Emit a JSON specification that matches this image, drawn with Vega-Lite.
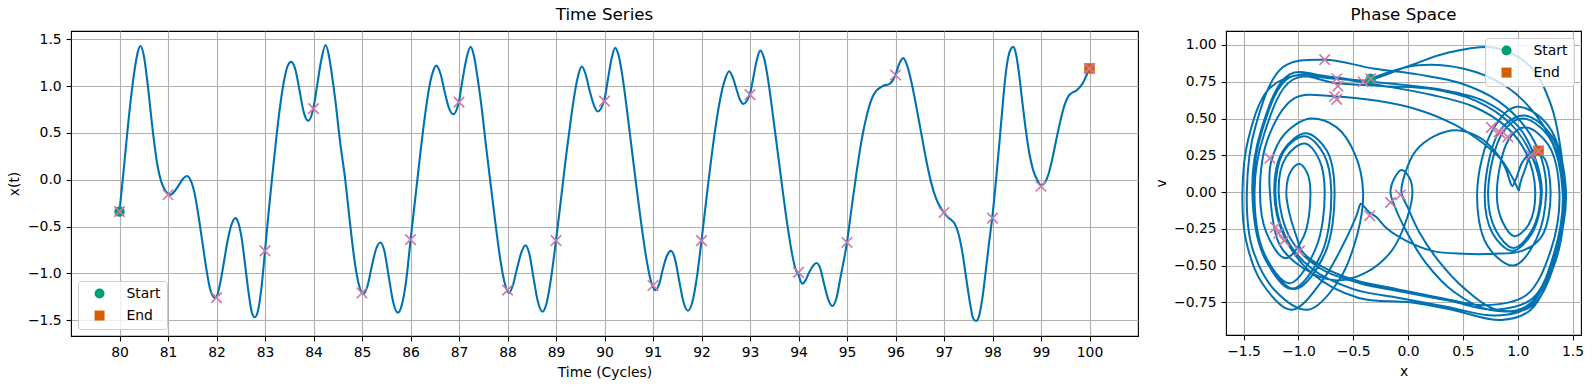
{
"$schema": "https://vega.github.io/schema/vega-lite/v6.json",
"padding": {"left": 7, "top": 6, "right": 5, "bottom": 5},
"datasets": {
"traj": [
{"t":80.00,"x":-0.34,"v":0.77},{"t":80.08,"x":0.07,"v":0.86},{"t":80.16,"x":0.50,"v":0.84},{"t":80.24,"x":0.89,"v":0.72},{"t":80.31,"x":1.17,"v":0.52},{"t":80.37,"x":1.35,"v":0.28},{"t":80.43,"x":1.43,"v":0},
{"t":80.50,"x":1.33,"v":-0.50},{"t":80.57,"x":1.07,"v":-0.78},{"t":80.64,"x":0.74,"v":-0.80},{"t":80.71,"x":0.42,"v":-0.68},{"t":80.78,"x":0.16,"v":-0.48},{"t":80.86,"x":-0.02,"v":-0.26},{"t":80.95,"x":-0.12,"v":-0.10},{"t":81.05,"x":-0.16,"v":0},
{"t":81.14,"x":-0.12,"v":0.10},{"t":81.22,"x":-0.06,"v":0.15},{"t":81.31,"x":0.01,"v":0.10},{"t":81.39,"x":0.04,"v":0},
{"t":81.47,"x":-0.01,"v":-0.18},{"t":81.55,"x":-0.15,"v":-0.40},{"t":81.63,"x":-0.39,"v":-0.55},{"t":81.71,"x":-0.67,"v":-0.60},{"t":81.79,"x":-0.95,"v":-0.52},{"t":81.87,"x":-1.17,"v":-0.36},{"t":81.96,"x":-1.26,"v":0},
{"t":82.00,"x":-1.25,"v":0.20},{"t":82.07,"x":-1.12,"v":0.40},{"t":82.15,"x":-0.89,"v":0.50},{"t":82.23,"x":-0.65,"v":0.44},{"t":82.31,"x":-0.48,"v":0.25},{"t":82.39,"x":-0.41,"v":0},
{"t":82.45,"x":-0.46,"v":-0.28},{"t":82.52,"x":-0.63,"v":-0.60},{"t":82.59,"x":-0.91,"v":-0.80},{"t":82.66,"x":-1.20,"v":-0.68},{"t":82.73,"x":-1.42,"v":-0.38},{"t":82.79,"x":-1.47,"v":0},
{"t":82.86,"x":-1.39,"v":0.45},{"t":82.93,"x":-1.14,"v":0.85},{"t":83.00,"x":-0.76,"v":0.90},{"t":83.08,"x":-0.32,"v":0.84},{"t":83.16,"x":0.09,"v":0.80},{"t":83.24,"x":0.48,"v":0.74},{"t":83.32,"x":0.82,"v":0.62},{"t":83.40,"x":1.08,"v":0.43},{"t":83.47,"x":1.22,"v":0.22},{"t":83.54,"x":1.26,"v":0},
{"t":83.63,"x":1.17,"v":-0.32},{"t":83.71,"x":0.96,"v":-0.50},{"t":83.80,"x":0.72,"v":-0.36},{"t":83.89,"x":0.63,"v":0},
{"t":84.00,"x":0.77,"v":0.42},{"t":84.07,"x":0.99,"v":0.58},{"t":84.16,"x":1.28,"v":0.45},{"t":84.25,"x":1.44,"v":0},
{"t":84.32,"x":1.32,"v":-0.50},{"t":84.38,"x":1.12,"v":-0.80},{"t":84.45,"x":0.85,"v":-0.87},{"t":84.55,"x":0.40,"v":-0.80},{"t":84.65,"x":0.02,"v":-0.75},{"t":84.75,"x":-0.45,"v":-0.72},{"t":84.85,"x":-0.88,"v":-0.55},{"t":84.94,"x":-1.13,"v":-0.30},{"t":85.03,"x":-1.22,"v":0},
{"t":85.11,"x":-1.14,"v":0.28},{"t":85.20,"x":-0.93,"v":0.40},{"t":85.29,"x":-0.74,"v":0.28},{"t":85.38,"x":-0.67,"v":0},
{"t":85.46,"x":-0.76,"v":-0.42},{"t":85.55,"x":-1.03,"v":-0.66},{"t":85.64,"x":-1.30,"v":-0.46},{"t":85.74,"x":-1.42,"v":0},
{"t":85.82,"x":-1.34,"v":0.42},{"t":85.91,"x":-1.08,"v":0.80},{"t":86.00,"x":-0.65,"v":0.77},{"t":86.10,"x":-0.19,"v":0.74},{"t":86.20,"x":0.27,"v":0.70},{"t":86.30,"x":0.69,"v":0.62},{"t":86.39,"x":1.00,"v":0.45},{"t":86.46,"x":1.15,"v":0.25},{"t":86.53,"x":1.22,"v":0},
{"t":86.62,"x":1.13,"v":-0.28},{"t":86.70,"x":0.95,"v":-0.40},{"t":86.79,"x":0.77,"v":-0.28},{"t":86.88,"x":0.70,"v":0},
{"t":87.00,"x":0.84,"v":0.42},{"t":87.07,"x":1.06,"v":0.52},{"t":87.16,"x":1.31,"v":0.38},{"t":87.24,"x":1.42,"v":0},
{"t":87.31,"x":1.32,"v":-0.48},{"t":87.38,"x":1.10,"v":-0.78},{"t":87.46,"x":0.80,"v":-0.84},{"t":87.56,"x":0.35,"v":-0.78},{"t":87.66,"x":-0.08,"v":-0.72},{"t":87.76,"x":-0.50,"v":-0.66},{"t":87.86,"x":-0.88,"v":-0.52},{"t":87.95,"x":-1.12,"v":-0.30},{"t":88.03,"x":-1.21,"v":0},
{"t":88.11,"x":-1.13,"v":0.28},{"t":88.20,"x":-0.94,"v":0.38},{"t":88.29,"x":-0.77,"v":0.26},{"t":88.37,"x":-0.70,"v":0},
{"t":88.45,"x":-0.79,"v":-0.42},{"t":88.54,"x":-1.06,"v":-0.66},{"t":88.63,"x":-1.31,"v":-0.44},{"t":88.72,"x":-1.41,"v":0},
{"t":88.80,"x":-1.33,"v":0.42},{"t":88.89,"x":-1.08,"v":0.78},{"t":89.00,"x":-0.65,"v":0.74},{"t":89.10,"x":-0.22,"v":0.72},{"t":89.20,"x":0.22,"v":0.70},{"t":89.30,"x":0.62,"v":0.62},{"t":89.39,"x":0.94,"v":0.46},{"t":89.46,"x":1.12,"v":0.26},{"t":89.53,"x":1.21,"v":0},
{"t":89.61,"x":1.13,"v":-0.26},{"t":89.69,"x":0.96,"v":-0.38},{"t":89.78,"x":0.80,"v":-0.26},{"t":89.86,"x":0.73,"v":0},
{"t":90.00,"x":0.86,"v":0.40},{"t":90.06,"x":1.04,"v":0.50},{"t":90.14,"x":1.28,"v":0.38},{"t":90.22,"x":1.41,"v":0},
{"t":90.29,"x":1.33,"v":-0.42},{"t":90.36,"x":1.14,"v":-0.72},{"t":90.45,"x":0.80,"v":-0.80},{"t":90.55,"x":0.38,"v":-0.74},{"t":90.65,"x":-0.04,"v":-0.68},{"t":90.75,"x":-0.44,"v":-0.62},{"t":90.85,"x":-0.80,"v":-0.52},{"t":90.95,"x":-1.07,"v":-0.32},{"t":91.05,"x":-1.18,"v":0},
{"t":91.13,"x":-1.11,"v":0.24},{"t":91.21,"x":-0.94,"v":0.33},{"t":91.29,"x":-0.81,"v":0.22},{"t":91.37,"x":-0.76,"v":0},
{"t":91.45,"x":-0.84,"v":-0.38},{"t":91.54,"x":-1.08,"v":-0.62},{"t":91.63,"x":-1.31,"v":-0.42},{"t":91.72,"x":-1.40,"v":0},
{"t":91.81,"x":-1.31,"v":0.40},{"t":91.90,"x":-1.06,"v":0.76},{"t":92.00,"x":-0.65,"v":0.77},{"t":92.10,"x":-0.21,"v":0.72},{"t":92.20,"x":0.22,"v":0.66},{"t":92.30,"x":0.60,"v":0.58},{"t":92.40,"x":0.90,"v":0.44},{"t":92.49,"x":1.08,"v":0.26},{"t":92.57,"x":1.16,"v":0},
{"t":92.64,"x":1.10,"v":-0.22},{"t":92.72,"x":0.97,"v":-0.30},{"t":92.79,"x":0.86,"v":-0.20},{"t":92.86,"x":0.81,"v":0},
{"t":93.00,"x":0.92,"v":0.36},{"t":93.06,"x":1.07,"v":0.44},{"t":93.14,"x":1.28,"v":0.32},{"t":93.21,"x":1.38,"v":0},
{"t":93.29,"x":1.30,"v":-0.40},{"t":93.37,"x":1.08,"v":-0.70},{"t":93.47,"x":0.70,"v":-0.77},{"t":93.57,"x":0.30,"v":-0.72},{"t":93.67,"x":-0.10,"v":-0.66},{"t":93.77,"x":-0.48,"v":-0.60},{"t":93.87,"x":-0.80,"v":-0.50},{"t":93.95,"x":-0.97,"v":-0.40},{"t":94.00,"x":-1.01,"v":-0.32},{"t":94.04,"x":-1.08,"v":-0.15},{"t":94.08,"x":-1.11,"v":0},
{"t":94.15,"x":-1.07,"v":0.14},{"t":94.22,"x":-0.99,"v":0.19},{"t":94.30,"x":-0.92,"v":0.13},{"t":94.37,"x":-0.89,"v":0},
{"t":94.45,"x":-0.95,"v":-0.30},{"t":94.53,"x":-1.12,"v":-0.45},{"t":94.62,"x":-1.29,"v":-0.28},{"t":94.70,"x":-1.35,"v":0},
{"t":94.78,"x":-1.27,"v":0.38},{"t":94.87,"x":-1.03,"v":0.64},{"t":95.00,"x":-0.67,"v":0.65},{"t":95.10,"x":-0.28,"v":0.62},{"t":95.20,"x":0.09,"v":0.56},{"t":95.30,"x":0.42,"v":0.46},{"t":95.40,"x":0.67,"v":0.34},{"t":95.50,"x":0.85,"v":0.22},{"t":95.60,"x":0.95,"v":0.10},{"t":95.70,"x":0.99,"v":0.04},{"t":95.78,"x":1.01,"v":0.01},
{"t":95.86,"x":1.02,"v":0.05},{"t":95.94,"x":1.06,"v":0.14},{"t":96.00,"x":1.12,"v":0.24},{"t":96.07,"x":1.23,"v":0.24},{"t":96.16,"x":1.30,"v":0},
{"t":96.24,"x":1.22,"v":-0.30},{"t":96.33,"x":1.04,"v":-0.40},{"t":96.43,"x":0.78,"v":-0.42},{"t":96.53,"x":0.50,"v":-0.42},{"t":96.63,"x":0.22,"v":-0.40},{"t":96.73,"x":-0.02,"v":-0.33},{"t":96.83,"x":-0.19,"v":-0.25},{"t":96.92,"x":-0.29,"v":-0.17},{"t":97.00,"x":-0.35,"v":-0.14},{"t":97.08,"x":-0.40,"v":-0.10},{"t":97.15,"x":-0.43,"v":-0.08},
{"t":97.22,"x":-0.47,"v":-0.16},{"t":97.30,"x":-0.58,"v":-0.34},{"t":97.38,"x":-0.78,"v":-0.60},{"t":97.46,"x":-1.06,"v":-0.80},{"t":97.54,"x":-1.33,"v":-0.62},{"t":97.60,"x":-1.48,"v":-0.32},{"t":97.66,"x":-1.51,"v":0},
{"t":97.72,"x":-1.46,"v":0.35},{"t":97.79,"x":-1.27,"v":0.70},{"t":97.86,"x":-0.98,"v":0.80},{"t":97.93,"x":-0.67,"v":0.78},{"t":98.00,"x":-0.38,"v":0.76},{"t":98.07,"x":-0.02,"v":0.85},{"t":98.14,"x":0.38,"v":0.95},{"t":98.21,"x":0.80,"v":0.98},{"t":98.27,"x":1.12,"v":0.85},{"t":98.32,"x":1.30,"v":0.60},{"t":98.37,"x":1.39,"v":0.30},{"t":98.43,"x":1.42,"v":0},
{"t":98.49,"x":1.33,"v":-0.50},{"t":98.55,"x":1.12,"v":-0.78},{"t":98.62,"x":0.81,"v":-0.80},{"t":98.69,"x":0.52,"v":-0.66},{"t":98.76,"x":0.28,"v":-0.47},{"t":98.84,"x":0.10,"v":-0.27},{"t":98.92,"x":0.00,"v":-0.11},{"t":99.00,"x":-0.06,"v":0},
{"t":99.08,"x":-0.03,"v":0.12},{"t":99.16,"x":0.07,"v":0.28},{"t":99.24,"x":0.24,"v":0.38},{"t":99.32,"x":0.44,"v":0.42},{"t":99.40,"x":0.63,"v":0.38},{"t":99.48,"x":0.79,"v":0.28},{"t":99.56,"x":0.89,"v":0.16},{"t":99.64,"x":0.93,"v":0.07},{"t":99.72,"x":0.95,"v":0.04},
{"t":99.80,"x":0.99,"v":0.10},{"t":99.87,"x":1.04,"v":0.20},{"t":99.94,"x":1.12,"v":0.27},{"t":100.00,"x":1.19,"v":0.29}
],
"pc": [
{"t":80,"x":-0.34,"v":0.77},{"t":81,"x":-0.16,"v":-0.07},{"t":82,"x":-1.26,"v":0.23},{"t":83,"x":-0.76,"v":0.90},{"t":84,"x":0.76,"v":0.44},
{"t":85,"x":-1.21,"v":-0.24},{"t":86,"x":-0.64,"v":0.72},{"t":87,"x":0.83,"v":0.41},{"t":88,"x":-1.18,"v":-0.28},{"t":89,"x":-0.65,"v":0.63},
{"t":90,"x":0.84,"v":0.40},{"t":91,"x":-1.13,"v":-0.33},{"t":92,"x":-0.65,"v":0.77},{"t":93,"x":0.91,"v":0.375},{"t":94,"x":-0.99,"v":-0.40},
{"t":95,"x":-0.67,"v":0.65},{"t":96,"x":1.12,"v":0.25},{"t":97,"x":-0.35,"v":-0.16},{"t":98,"x":-0.41,"v":0.75},{"t":99,"x":-0.07,"v":-0.02},{"t":100,"x":1.19,"v":0.28}
],
"se": [
{"label":"Start","t":80,"x":-0.34,"v":0.77},
{"label":"End","t":100,"x":1.19,"v":0.28}
]
},
"hconcat": [
{
"width": 1067, "height": 305,
"title": {"text": "Time Series"},
"layer": [
{"data": {"name": "traj"}, "mark": {"type": "line", "color": "#0072B2", "strokeWidth": 2.1, "interpolate": "monotone"},
"encoding": {
"x": {"field": "t", "type": "quantitative", "scale": {"domain": [79, 101], "nice": false, "zero": false}, "axis": {"values": [80,81,82,83,84,85,86,87,88,89,90,91,92,93,94,95,96,97,98,99,100], "format": "d", "title": "Time (Cycles)"}},
"y": {"field": "x", "type": "quantitative", "scale": {"domain": [-1.67, 1.59], "nice": false, "zero": false}, "axis": {"values": [-1.5,-1,-0.5,0,0.5,1,1.5], "format": ".1f", "title": "x(t)"}}
}},
{"data": {"name": "se"}, "mark": {"type": "point", "filled": true, "opacity": 1, "size": 110},
"encoding": {
"x": {"field": "t", "type": "quantitative"},
"y": {"field": "x", "type": "quantitative"},
"color": {"field": "label", "type": "nominal", "scale": {"domain": ["Start","End"], "range": ["#009E73","#D55E00"]}, "legend": {"title": null, "orient": "bottom-left"}},
"shape": {"field": "label", "type": "nominal", "scale": {"domain": ["Start","End"], "range": ["circle","square"]}, "legend": {"title": null, "orient": "bottom-left"}}
}},
{"data": {"name": "pc"}, "mark": {"type": "point", "shape": "M-1,-1L1,1M-1,1L1,-1", "filled": false, "stroke": "#CC79A7", "strokeWidth": 1.6, "size": 110, "opacity": 1},
"encoding": {
"x": {"field": "t", "type": "quantitative"},
"y": {"field": "x", "type": "quantitative"}
}}
]
},
{
"width": 355, "height": 304,
"title": {"text": "Phase Space"},
"layer": [
{"data": {"name": "traj"}, "mark": {"type": "line", "color": "#0072B2", "strokeWidth": 2.0, "interpolate": "catmull-rom"},
"encoding": {
"x": {"field": "x", "type": "quantitative", "scale": {"domain": [-1.66, 1.577], "nice": false, "zero": false}, "axis": {"values": [-1.5,-1,-0.5,0,0.5,1,1.5], "format": ".1f", "title": "x"}},
"y": {"field": "v", "type": "quantitative", "scale": {"domain": [-0.972, 1.095], "nice": false, "zero": false}, "axis": {"values": [-0.75,-0.5,-0.25,0,0.25,0.5,0.75,1], "format": ".2f", "title": "v"}},
"order": {"field": "t", "type": "quantitative"}
}},
{"data": {"name": "se"}, "mark": {"type": "point", "filled": true, "opacity": 1, "size": 110},
"encoding": {
"x": {"field": "x", "type": "quantitative"},
"y": {"field": "v", "type": "quantitative"},
"color": {"field": "label", "type": "nominal", "scale": {"domain": ["Start","End"], "range": ["#009E73","#D55E00"]}, "legend": {"title": null, "orient": "top-right"}},
"shape": {"field": "label", "type": "nominal", "scale": {"domain": ["Start","End"], "range": ["circle","square"]}, "legend": {"title": null, "orient": "top-right"}}
}},
{"data": {"name": "pc"}, "mark": {"type": "point", "shape": "M-1,-1L1,1M-1,1L1,-1", "filled": false, "stroke": "#CC79A7", "strokeWidth": 1.6, "size": 110, "opacity": 1},
"encoding": {
"x": {"field": "x", "type": "quantitative"},
"y": {"field": "v", "type": "quantitative"}
}}
]
}
],
"spacing": 14,
"resolve": {"scale": {"color": "independent", "shape": "independent"}, "legend": {"color": "independent", "shape": "independent"}},
"config": {
"font": "DejaVu Sans",
"view": {"stroke": "black", "strokeWidth": 1.1},
"axis": {"domain": false, "grid": true, "gridColor": "#b0b0b0", "gridWidth": 1.1, "tickColor": "black", "tickSize": 4.9, "tickWidth": 1.1, "labelFont": "DejaVu Sans", "labelFontSize": 13.9, "labelColor": "black", "labelPadding": 4.9, "labelFlush": false, "labelOverlap": false, "titleFont": "DejaVu Sans", "titleFontSize": 13.9, "titleFontWeight": "normal", "titleColor": "black", "titlePadding": 5.6},
"title": {"font": "DejaVu Sans", "fontSize": 16.7, "fontWeight": "normal", "color": "black", "anchor": "middle", "offset": 7},
"legend": {"padding": 5.6, "offset": 7, "symbolOffset": 9, "labelOffset": 20, "rowPadding": 7, "labelFont": "DejaVu Sans", "labelFontSize": 13.9, "labelColor": "black", "symbolSize": 100, "symbolStrokeWidth": 0, "fillColor": "rgba(255,255,255,0.8)", "strokeColor": "#cccccc", "cornerRadius": 3}
}
}
